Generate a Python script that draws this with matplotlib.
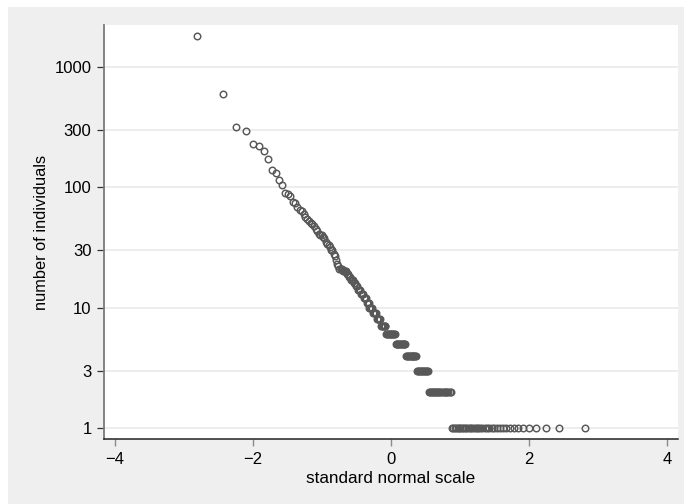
import matplotlib
matplotlib.use('Agg')
import matplotlib.pyplot as plt
import numpy as np
from statistics import NormalDist

plt.rcParams['font.family'] = ['Liberation Sans', 'DejaVu Sans']

# individuals per group, largest first (ranks 1..88 read singly)
top_counts = [1800, 600, 320, 295, 230, 222, 200, 173, 140, 132,
              115, 105, 89, 88, 84, 76, 74, 69, 65, 63,
              60, 57, 55, 53, 51, 50, 48, 45, 43, 41,
              40, 40, 39, 38, 35, 34, 33, 32, 30, 30,
              28, 27, 25, 23, 22, 21, 21, 21, 20, 20,
              20, 20, 19, 19, 18, 18, 17, 17, 17, 16,
              16, 15, 15, 14, 14, 14, 13, 13, 13, 12,
              12, 12, 11, 11, 11, 10, 10, 10, 10, 9,
              9, 9, 9, 8, 8, 8, 8, 8]
# small counts and how many groups have each
small_values = [7, 6, 5, 4, 3, 2, 1]
small_freq = [6, 11, 12, 12, 12, 21, 38]

counts = np.array(top_counts + list(np.repeat(small_values, small_freq)), dtype=float)
n = len(counts)
# position on the standard normal scale for each rank
nd = NormalDist()
zq = np.array([nd.inv_cdf((i - 0.5) / n) for i in range(1, n + 1)])

ytick_vals = [1, 3, 10, 30, 100, 300, 1000]
xtick_vals = [-4, -2, 0, 2, 4]

fig = plt.figure(figsize=(6.84, 5.04), dpi=100, facecolor='white')
fig.patches.append(plt.Rectangle((8 / 684, 0), 1, 1 - 7 / 504, transform=fig.transFigure,
                                 facecolor='#efefef', edgecolor='none', zorder=-10))
ax = fig.add_axes([104 / 684, 1 - 439 / 504, (678 - 104) / 684, (439 - 25) / 504])
ax.set_facecolor('white')

ax.plot(zq, counts, linestyle='none', marker='o', markersize=4.7,
        markerfacecolor='none', markeredgecolor='#585858', markeredgewidth=1.05, zorder=3)

ax.set_yscale('log')
ax.set_xlim(-4.16, 4.16)
ax.set_ylim(0.81, 2234)
ax.set_yticks(ytick_vals)
ax.set_yticklabels([str(v) for v in ytick_vals])
ax.yaxis.set_minor_locator(matplotlib.ticker.NullLocator())
ax.set_xticks(xtick_vals)
ax.set_xticklabels(['\u2212' + str(-v) if v < 0 else str(v) for v in xtick_vals])

for v in ytick_vals:
    ax.axhline(v, color='#e8e8e8', linewidth=1.1, zorder=1)

for side in ['top', 'right']:
    ax.spines[side].set_visible(False)
ax.spines['left'].set_color('#7a7a7a')
ax.spines['left'].set_linewidth(1.3)
ax.spines['bottom'].set_color('#222222')
ax.spines['bottom'].set_linewidth(1.1)

ax.tick_params(axis='y', length=5, width=0.9, color='#333333', pad=4, labelsize=12)
ax.tick_params(axis='x', length=5, width=1.0, color='#8a8a8a', pad=4, labelsize=12)

ax.set_xlabel('standard normal scale', fontsize=12.3, labelpad=3)
ax.set_ylabel('number of individuals', fontsize=11.8, labelpad=4)

fig.savefig('out.png', dpi=100, facecolor=fig.get_facecolor())
